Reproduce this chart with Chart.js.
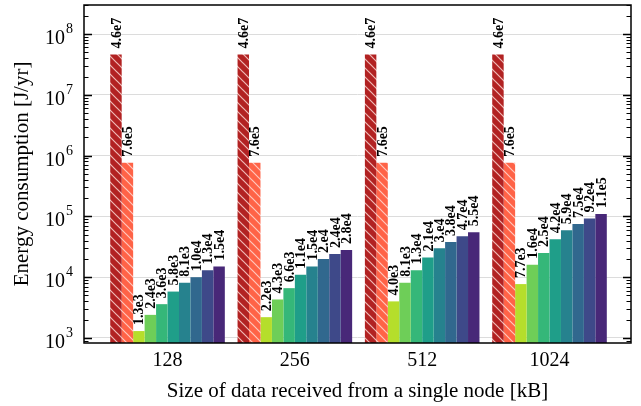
<!DOCTYPE html>
<html>
<head>
<meta charset="utf-8">
<script src="https://cdn.jsdelivr.net/npm/chart.js@4/dist/chart.umd.min.js"></script>
<style>
html,body{margin:0;padding:0;background:#fff;}
#wrap{width:641px;height:406px;}
</style>
</head>
<body>
<div id="wrap"><canvas id="c" width="641" height="406"></canvas></div>
<script>
// ---- data ----
const categories = ['128', '256', '512', '1024'];
const s1 = [4.6e7, 4.6e7, 4.6e7, 4.6e7];
const s2 = [7.6e5, 7.6e5, 7.6e5, 7.6e5];
const s3 = [1.3e3, 2.2e3, 4.0e3, 7.7e3];
const s4 = [2.4e3, 4.3e3, 8.1e3, 1.6e4];
const s5 = [3.6e3, 6.6e3, 1.3e4, 2.5e4];
const s6 = [5.8e3, 1.1e4, 2.1e4, 4.2e4];
const s7 = [8.1e3, 1.5e4, 3.0e4, 5.9e4];
const s8 = [1.0e4, 2.0e4, 3.8e4, 7.5e4];
const s9 = [1.3e4, 2.4e4, 4.7e4, 9.2e4];
const s10 = [1.5e4, 2.8e4, 5.5e4, 1.1e5];
const l1 = ['4.6e7', '4.6e7', '4.6e7', '4.6e7'];
const l2 = ['7.6e5', '7.6e5', '7.6e5', '7.6e5'];
const l3 = ['1.3e3', '2.2e3', '4.0e3', '7.7e3'];
const l4 = ['2.4e3', '4.3e3', '8.1e3', '1.6e4'];
const l5 = ['3.6e3', '6.6e3', '1.3e4', '2.5e4'];
const l6 = ['5.8e3', '1.1e4', '2.1e4', '4.2e4'];
const l7 = ['8.1e3', '1.5e4', '3.e4', '5.9e4'];
const l8 = ['1.0e4', '2.e4', '3.8e4', '7.5e4'];
const l9 = ['1.3e4', '2.4e4', '4.7e4', '9.2e4'];
const l10 = ['1.5e4', '2.8e4', '5.5e4', '1.1e5'];
const yDecades = [3, 4, 5, 6, 7, 8];

const seriesValues = [s1, s2, s3, s4, s5, s6, s7, s8, s9, s10];
const seriesLabels = [l1, l2, l3, l4, l5, l6, l7, l8, l9, l10];
const colors = ['#B22222', '#FF6347', '#b5de2b', '#6ece58', '#35b779', '#1f9e89', '#26828e', '#31688e', '#3e4989', '#482878'];
const hatched = [true, true, false, false, false, false, false, false, false, false];

const SERIF = '"Liberation Serif", "Times New Roman", serif';

function hatch(bg, lineColor) {
  const p = 9;
  const c = document.createElement('canvas');
  c.width = p; c.height = p;
  const g = c.getContext('2d');
  g.fillStyle = bg; g.fillRect(0, 0, p, p);
  g.strokeStyle = lineColor; g.lineWidth = 1.2;
  g.beginPath();
  g.moveTo(0, 0); g.lineTo(p, p);
  g.moveTo(-2, p - 2); g.lineTo(2, p + 2);
  g.moveTo(p - 2, -2); g.lineTo(p + 2, 2);
  g.stroke();
  return g.createPattern(c, 'repeat');
}

const datasets = seriesValues.map((vals, k) => ({
  data: vals.map((v, i) => ({x: i, y: v})),
  labelsText: seriesLabels[k],
  backgroundColor: hatched[k] ? hatch(colors[k], 'rgba(255,225,220,0.8)') : colors[k],
  borderWidth: 0,
  categoryPercentage: 0.9,
  barPercentage: 1.0
}));

const decorPlugin = {
  id: 'decor',
  afterDatasetsDraw(chart) {
    const ctx = chart.ctx;
    ctx.save();
    ctx.fillStyle = '#000';
    ctx.font = 'bold 14px ' + SERIF;
    ctx.textAlign = 'left';
    ctx.textBaseline = 'middle';
    chart.data.datasets.forEach((ds, k) => {
      const meta = chart.getDatasetMeta(k);
      meta.data.forEach((el, i) => {
        ctx.save();
        ctx.translate(el.x + 1, el.y - 6);
        ctx.rotate(-Math.PI / 2);
        ctx.fillText(ds.labelsText[i], 0, 0);
        ctx.restore();
      });
    });
    ctx.restore();
  },
  afterDraw(chart) {
    const ctx = chart.ctx;
    const a = chart.chartArea;
    const ys = chart.scales.y;
    ctx.save();
    ctx.strokeStyle = '#000';
    const lo = Math.floor(Math.log10(ys.min)), hi = Math.ceil(Math.log10(ys.max));
    for (let d = lo; d <= hi; d++) {
      for (let m = 1; m <= 9; m++) {
        const v = m * Math.pow(10, d);
        if (v < ys.min || v > ys.max) continue;
        const y = Math.round(ys.getPixelForValue(v)) + 0.5;
        const len = m === 1 ? 8 : 4.5;
        ctx.lineWidth = m === 1 ? 1.3 : 1;
        ctx.beginPath();
        ctx.moveTo(a.left, y); ctx.lineTo(a.left + len, y);
        ctx.moveTo(a.right, y); ctx.lineTo(a.right - len, y);
        ctx.stroke();
      }
    }
    ctx.lineWidth = 1.5;
    ctx.strokeRect(a.left, a.top, a.right - a.left, a.bottom - a.top);
    ctx.fillStyle = '#000';
    yDecades.forEach(d => {
      const y = ys.getPixelForValue(Math.pow(10, d));
      ctx.font = '20px ' + SERIF;
      ctx.textAlign = 'right';
      ctx.textBaseline = 'alphabetic';
      ctx.fillText('10', 65, y + 10);
      ctx.font = '14px ' + SERIF;
      ctx.textAlign = 'left';
      ctx.fillText(String(d), 66, y - 1);
    });
    ctx.restore();
  }
};

new Chart(document.getElementById('c'), {
  type: 'bar',
  data: { datasets },
  options: {
    responsive: false,
    animation: false,
    devicePixelRatio: 1,
    layout: { padding: { left: 10, right: 10, top: 5, bottom: 0 } },
    plugins: { legend: { display: false }, tooltip: { enabled: false } },
    scales: {
      x: {
        type: 'linear',
        offset: false,
        min: -0.656,
        max: 3.64,
        afterBuildTicks: s => { s.ticks = categories.map((c, i) => ({value: i})); },
        afterFit: s => { s.height = 63; },
        grid: { display: false, drawTicks: false },
        border: { display: false },
        ticks: {
          callback: v => categories[v] !== undefined ? categories[v] : '',
          font: { family: SERIF, size: 20 },
          color: '#000',
          padding: 6,
          maxRotation: 0,
          autoSkip: false
        },
        title: {
          display: true,
          text: 'Size of data received from a single node [kB]',
          font: { family: SERIF, size: 21 },
          color: '#000',
          padding: { top: 0, bottom: 2 }
        }
      },
      y: {
        type: 'logarithmic',
        min: 827,
        max: 3.0e8,
        afterBuildTicks: s => { s.ticks = yDecades.map(d => ({value: Math.pow(10, d), major: true})); },
        afterFit: s => { s.width = 74; },
        grid: { color: '#dcdcdc', lineWidth: 1, drawTicks: false },
        border: { display: false },
        ticks: { display: false },
        title: {
          display: true,
          text: 'Energy consumption [J/yr]',
          font: { family: SERIF, size: 21 },
          color: '#000',
          padding: { top: 0, bottom: 0 }
        }
      }
    }
  },
  plugins: [decorPlugin]
});
</script>
</body>
</html>
